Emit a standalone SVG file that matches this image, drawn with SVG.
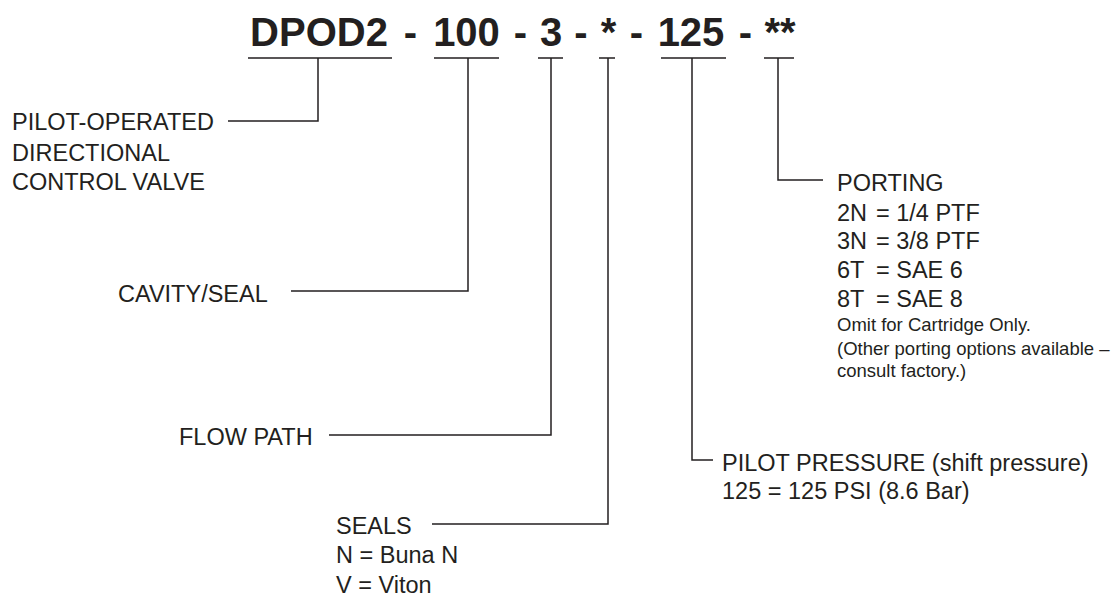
<svg xmlns="http://www.w3.org/2000/svg" width="1117" height="596" viewBox="0 0 1117 596">
<style>
.t{font-family:"Liberation Sans",Arial,Helvetica,sans-serif;fill:#231f20}
.title{font-size:40px;font-weight:bold;text-anchor:middle}
.lbl{font-size:23.5px}
.sm{font-size:18.5px}
.ln{stroke:#231f20;stroke-width:1.5;fill:none}
</style>
<rect width="1117" height="596" fill="#ffffff"/>
<g id="title">
<text class="t title" x="319" y="46">DPOD2</text>
<text class="t title" x="410.5" y="46">-</text>
<text class="t title" x="466.5" y="46">100</text>
<text class="t title" x="520.5" y="46">-</text>
<text class="t title" x="551" y="46">3</text>
<text class="t title" x="581" y="46">-</text>
<text class="t title" x="608.5" y="46">*</text>
<text class="t title" x="636.5" y="46">-</text>
<text class="t title" x="691" y="46">125</text>
<text class="t title" x="745.5" y="46">-</text>
<text class="t title" x="780" y="46">**</text>
</g>
<g id="connectors">
<path class="ln" d="M248 58H392M318 58V121H228"/>
<path class="ln" d="M434 58H499M468 58V291H291"/>
<path class="ln" d="M538 58H563M551 58V435H329"/>
<path class="ln" d="M599 58H615M608 58V524H432"/>
<path class="ln" d="M661 58H726M692 58V460H713"/>
<path class="ln" d="M764 58H794M778 58V180H823"/>
</g>
<g id="node-model">
<text class="t lbl" x="12" y="130">PILOT-OPERATED</text>
<text class="t lbl" x="12" y="161">DIRECTIONAL</text>
<text class="t lbl" x="12" y="190">CONTROL VALVE</text>
</g>
<g id="node-cavity">
<text class="t lbl" x="118" y="302">CAVITY/SEAL</text>
</g>
<g id="node-flow">
<text class="t lbl" x="179" y="445">FLOW PATH</text>
</g>
<g id="node-seals">
<text class="t lbl" x="336" y="534">SEALS</text>
<text class="t lbl" x="336" y="563">N = Buna N</text>
<text class="t lbl" x="336" y="593">V = Viton</text>
</g>
<g id="node-pressure">
<text class="t lbl" x="722" y="471">PILOT PRESSURE (shift pressure)</text>
<text class="t lbl" x="722" y="499">125 = 125 PSI (8.6 Bar)</text>
</g>
<g id="node-porting">
<text class="t lbl" x="837" y="191">PORTING</text>
<text class="t lbl" x="837" y="221">2N<tspan x="876">= 1/4 PTF</tspan></text>
<text class="t lbl" x="837" y="249">3N<tspan x="876">= 3/8 PTF</tspan></text>
<text class="t lbl" x="837" y="278">6T<tspan x="876">= SAE 6</tspan></text>
<text class="t lbl" x="837" y="307">8T<tspan x="876">= SAE 8</tspan></text>
<text class="t sm" x="837" y="331">Omit for Cartridge Only.</text>
<text class="t sm" x="837" y="355">(Other porting options available –</text>
<text class="t sm" x="837" y="377">consult factory.)</text>
</g>
</svg>
